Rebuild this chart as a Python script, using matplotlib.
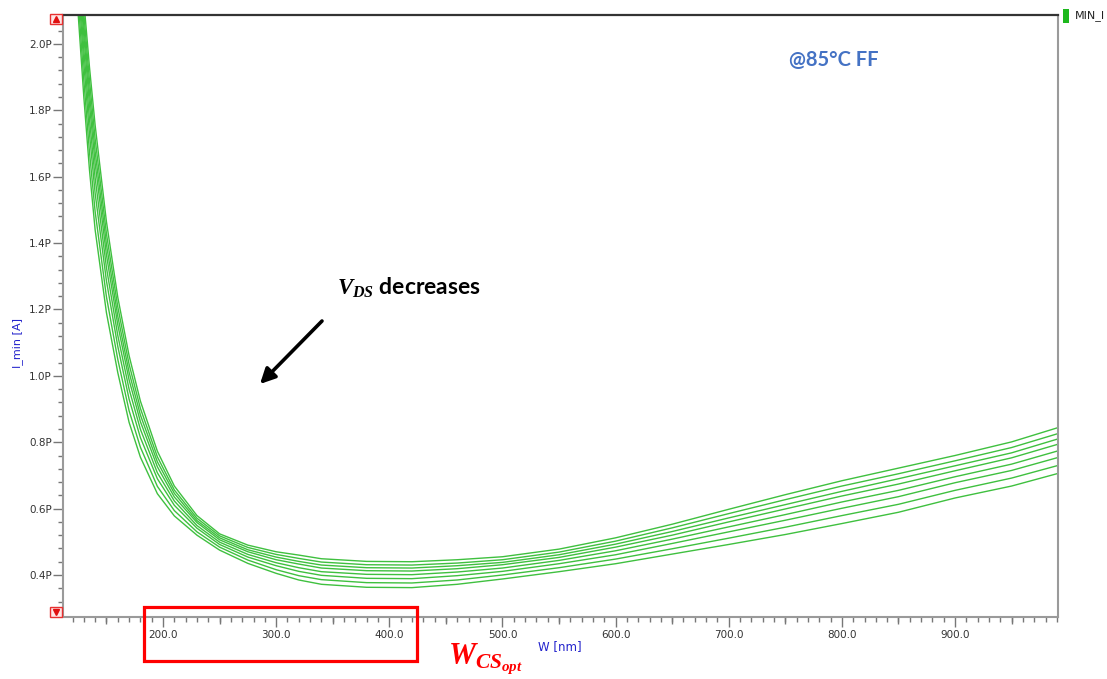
import matplotlib

matplotlib.use("Agg")
import matplotlib.pyplot as plt
from matplotlib.patches import Rectangle
from matplotlib.ticker import FuncFormatter, MultipleLocator

plt.rcParams["mathtext.fontset"] = "custom"
plt.rcParams["mathtext.it"] = "Liberation Serif:italic:bold"
plt.rcParams["mathtext.rm"] = "Liberation Serif:bold"
plt.rcParams["mathtext.bf"] = "Liberation Serif:bold"

# transistor width sweep [nm]
w_nm = [125, 130, 135, 140, 150, 160, 170, 180, 195, 210, 230, 250, 275, 300, 320,
        340, 380, 420, 460, 500, 550, 600, 650, 700, 750, 800, 850, 900, 950, 991]

# minimum current [pA], one trace per V_DS step (highest V_DS first)
i_min_1 = [2.354, 2.129, 1.930, 1.755, 1.464, 1.237, 1.061, 0.924, 0.773, 0.668, 0.579, 0.524, 0.490, 0.470, 0.460,
           0.449, 0.441, 0.440, 0.446, 0.455, 0.478, 0.512, 0.553, 0.598, 0.642, 0.684, 0.722, 0.760, 0.801, 0.844]
i_min_2 = [2.320, 2.091, 1.890, 1.714, 1.428, 1.208, 1.035, 0.902, 0.756, 0.656, 0.571, 0.518, 0.483, 0.462, 0.450,
           0.439, 0.431, 0.430, 0.436, 0.446, 0.469, 0.502, 0.542, 0.585, 0.627, 0.668, 0.705, 0.744, 0.784, 0.826]
i_min_3 = [2.288, 2.057, 1.853, 1.676, 1.396, 1.180, 1.011, 0.882, 0.741, 0.646, 0.564, 0.512, 0.476, 0.454, 0.441,
           0.430, 0.422, 0.421, 0.428, 0.438, 0.461, 0.493, 0.531, 0.572, 0.612, 0.652, 0.690, 0.729, 0.768, 0.810]
i_min_4 = [2.258, 2.024, 1.817, 1.640, 1.364, 1.154, 0.988, 0.862, 0.726, 0.635, 0.558, 0.506, 0.470, 0.446, 0.433,
           0.421, 0.413, 0.412, 0.419, 0.431, 0.453, 0.484, 0.520, 0.560, 0.599, 0.638, 0.674, 0.714, 0.753, 0.794]
i_min_5 = [2.221, 1.983, 1.773, 1.596, 1.326, 1.122, 0.960, 0.839, 0.708, 0.623, 0.549, 0.499, 0.462, 0.437, 0.422,
           0.410, 0.402, 0.401, 0.409, 0.421, 0.444, 0.473, 0.508, 0.545, 0.582, 0.620, 0.655, 0.696, 0.734, 0.774]
i_min_6 = [2.182, 1.941, 1.729, 1.550, 1.286, 1.089, 0.930, 0.814, 0.690, 0.610, 0.541, 0.492, 0.454, 0.428, 0.411,
           0.399, 0.390, 0.389, 0.398, 0.411, 0.434, 0.461, 0.495, 0.530, 0.565, 0.601, 0.636, 0.678, 0.715, 0.754]
i_min_7 = [2.136, 1.891, 1.674, 1.495, 1.238, 1.050, 0.895, 0.785, 0.667, 0.594, 0.530, 0.484, 0.445, 0.416, 0.398,
           0.386, 0.377, 0.376, 0.385, 0.400, 0.422, 0.448, 0.479, 0.511, 0.544, 0.579, 0.613, 0.655, 0.692, 0.730]
i_min_8 = [2.090, 1.840, 1.620, 1.440, 1.190, 1.010, 0.860, 0.755, 0.645, 0.578, 0.520, 0.475, 0.435, 0.405, 0.385,
           0.372, 0.363, 0.362, 0.372, 0.388, 0.410, 0.434, 0.463, 0.492, 0.522, 0.555, 0.589, 0.632, 0.668, 0.706]

traces = [i_min_1, i_min_2, i_min_3, i_min_4, i_min_5, i_min_6, i_min_7, i_min_8]

FIG_W, FIG_H = 1107, 679


def fx(x):
    return x / FIG_W


def fy(y):
    return 1.0 - y / FIG_H


fig = plt.figure(figsize=(FIG_W / 100, FIG_H / 100), dpi=100)
ax = fig.add_axes([fx(63), fy(617), fx(1058) - fx(63), fy(15) - fy(617)])

green = "#3fc03f"
for trace in traces:
    ax.plot(w_nm, trace, color=green, lw=1.0, solid_joinstyle="round")

ax.set_xlim(111.6, 991)
ax.set_ylim(0.2735, 2.087)

grey = "#9a9a9a"
for side in ("left", "bottom", "right"):
    ax.spines[side].set_color(grey)
    ax.spines[side].set_linewidth(1.5)
ax.spines["top"].set_color("#333333")
ax.spines["top"].set_linewidth(1.6)

ax.xaxis.set_major_locator(MultipleLocator(100))
ax.xaxis.set_minor_locator(MultipleLocator(10))
ax.xaxis.set_major_formatter(FuncFormatter(lambda v, _: f"{v:.1f}"))
ax.yaxis.set_major_locator(MultipleLocator(0.2))
ax.yaxis.set_minor_locator(MultipleLocator(0.04))
ax.yaxis.set_major_formatter(FuncFormatter(lambda v, _: f"{v:.1f}P"))

ax.tick_params(which="both", direction="out", color="#777777", width=1.0,
               labelsize=7.5, labelcolor="#333333")
ax.tick_params(which="major", length=7, pad=2)
ax.tick_params(which="minor", length=3.5)
ax.tick_params(axis="y", which="major", pad=1)

# half-decade ticks on the W axis
mid = ax.secondary_xaxis("bottom")
mid.set_xticks([150, 250, 350, 450, 550, 650, 750, 850, 950])
mid.tick_params(length=5, width=1.0, color="#777777", labelbottom=False)
for sp in mid.spines.values():
    sp.set_visible(False)

fig.text(fx(18), fy(343), "I_min [A]", rotation=90, ha="center", va="center",
         color="#2222cc", fontsize=8)
fig.text(fx(560), fy(647), "W [nm]", ha="center", va="center",
         color="#2222cc", fontsize=8.5)

# legend entry
fig.add_artist(Rectangle((fx(1063), fy(23)), fx(6), fy(9) - fy(23),
                         facecolor="#1db81d", edgecolor="none"))
fig.text(fx(1075), fy(16), "MIN_I", ha="left", va="center", fontsize=8, color="#222222")

# y-scroll markers
for y_top, marker in ((14, "^"), (607, "v")):
    fig.add_artist(Rectangle((fx(50), fy(y_top + 10)), fx(12), fy(y_top) - fy(y_top + 10),
                             facecolor="#ffe6e6", edgecolor="#e83030", lw=1.0))
    fig.add_artist(plt.Line2D([fx(56)], [fy(y_top + 5)], marker=marker, markersize=4,
                              color="#e01010", transform=fig.transFigure))

fig.text(fx(834), fy(60), "@85°C FF", ha="center", va="center", fontsize=14.5,
         fontweight="bold", family="Lato", color="#4472c4")

fig.text(fx(337), fy(288), r"$V_{DS}$ decreases", ha="left", va="center", fontsize=16.5,
         fontweight="bold", family="Lato", color="black")
ax.annotate("", xy=(fx(260), fy(384)), xytext=(fx(322), fy(321)),
            xycoords="figure fraction", textcoords="figure fraction",
            arrowprops=dict(arrowstyle="-|>,head_length=0.9,head_width=0.45",
                            color="black", lw=2.6, shrinkA=0, shrinkB=0),
            annotation_clip=False)

fig.add_artist(Rectangle((fx(144), fy(661)), fx(417) - fx(144), fy(607) - fy(661),
                         facecolor="none", edgecolor="#ff0000", lw=2.3))
fig.text(fx(448), fy(659), r"$W_{CS_{opt}}$", ha="left", va="center", fontsize=22,
         color="#ff0000")

fig.savefig("out.png", dpi=100)
